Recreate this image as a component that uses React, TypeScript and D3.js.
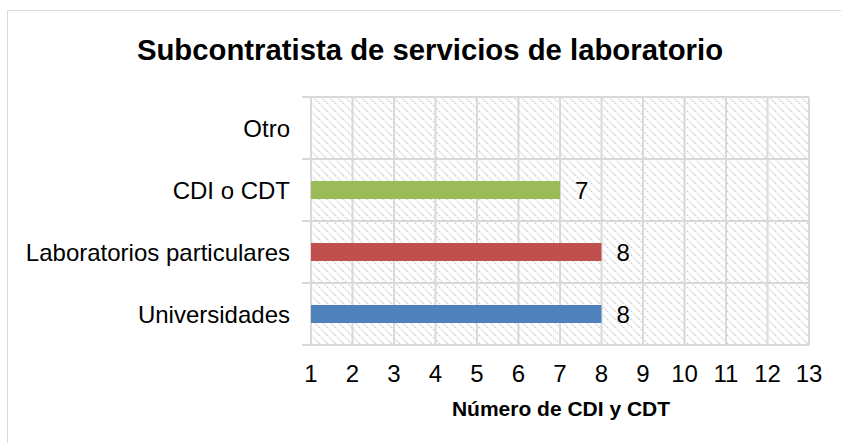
import React from "react";
import * as d3 from "d3";

const categories = ["Universidades", "Laboratorios particulares", "CDI o CDT", "Otro"];
const values: (number | null)[] = [8, 8, 7, null];
const colors = ["#4f81bd", "#c0504d", "#9bbb59", "#cccccc"];
const ticks = [1, 2, 3, 4, 5, 6, 7, 8, 9, 10, 11, 12, 13];
const title = "Subcontratista de servicios de laboratorio";
const xTitle = "Número de CDI y CDT";

export default function App() {
  const W = 841, H = 443;
  const left = 311, right = 809, top = 97, bottom = 345;
  const x = d3.scaleLinear().domain([1, 13]).range([left, right]);
  const y = d3.scaleBand().domain([...categories].reverse()).range([top, bottom]);
  const font = "'Liberation Sans', Arial, sans-serif";
  const barH = 18;
  return (
    <svg width={W} height={H} style={{ position: "absolute", left: 0, top: 0 }}>
      <defs>
        <pattern id="hatch" width="8" height="8" patternUnits="userSpaceOnUse">
          <path d="M-1,-1 L9,9 M-5,3 L1,9 M3,-5 L9,1" stroke="#d0d0d0" strokeWidth="1.6" strokeDasharray="1.5,1.3" />
        </pattern>
      </defs>
      <rect x={0} y={0} width={W} height={H} fill="#fff" />
      <rect x={7.5} y={10.5} width={W + 10} height={H + 10} fill="#fff" stroke="#d9d9d9" strokeWidth={1} />
      <text x={430} y={60} textAnchor="middle" fontFamily={font} fontWeight="bold" fontSize={29.3} fill="#000">{title}</text>
      <rect x={left} y={top} width={right - left} height={bottom - top} fill="url(#hatch)" />
      {ticks.map((t) => (
        <line key={"v" + t} x1={x(t)} x2={x(t)} y1={top} y2={bottom} stroke="#d9d9d9" strokeWidth={2} />
      ))}
      {[...categories.map((c) => y(c)!), bottom].map((yy, i) => (
        <line key={"h" + i} x1={left - 9} x2={right} y1={yy} y2={yy} stroke="#d9d9d9" strokeWidth={2} />
      ))}
      {categories.map((c, i) => {
        const v = values[i];
        const cy = y(c)! + y.bandwidth() / 2;
        return (
          <g key={c}>
            <text x={290} y={cy + 9} textAnchor="end" fontFamily={font} fontSize={24} fill="#000">{c}</text>
            {v != null && (
              <>
                <rect x={x(1)} y={cy - barH / 2} width={x(v) - x(1)} height={barH} fill={colors[i]} />
                <text x={x(v) + 15} y={cy + 9} fontFamily={font} fontSize={24} fill="#000">{v}</text>
              </>
            )}
          </g>
        );
      })}
      {ticks.map((t) => (
        <text key={"t" + t} x={x(t)} y={382} textAnchor="middle" fontFamily={font} fontSize={24} fill="#000">{t}</text>
      ))}
      <text x={561} y={416} textAnchor="middle" fontFamily={font} fontWeight="bold" fontSize={21} fill="#000">{xTitle}</text>
    </svg>
  );
}
